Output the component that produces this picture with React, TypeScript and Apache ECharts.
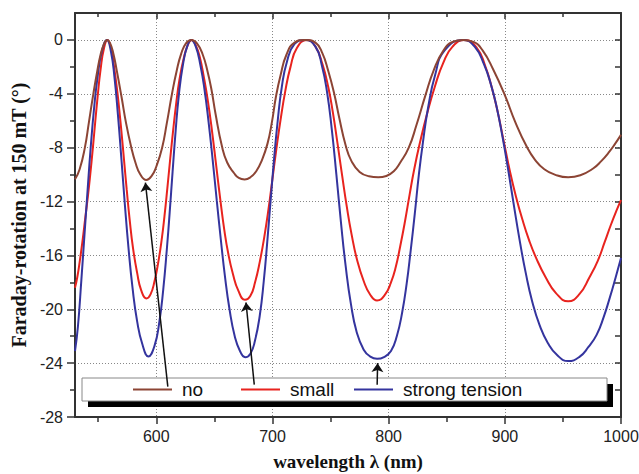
import React, { useEffect, useRef } from "react";
import * as echarts from "echarts";

// ---- data ----
const seriesNames = ["no", "small", "strong tension"];
const seriesColors = ["#8c4434", "#e8231e", "#34349e"];

const noX = [530, 534, 538.5, 542, 545.8, 549, 552, 555, 557.6, 560, 563, 566, 570, 574, 578.5, 582, 586, 591.4, 596, 600, 605, 609, 613.5, 617.5, 621.5, 625.5, 630, 635, 640, 644, 647.5, 651, 656.5, 661, 667, 671, 676, 681, 686, 691, 695.7, 699.5, 703, 707, 712, 719, 728, 737, 743, 748, 752.9, 757.5, 762.9, 768, 775, 783, 791, 798, 804.4, 810, 817.3, 824, 831.7, 839, 847, 855, 864, 873, 881, 890, 900, 909, 918.7, 926, 934, 943, 954.5, 965, 976, 983, 990, 995, 1000];
const noY = [-10.35, -9.6, -8, -6.1, -4, -2.4, -1.1, -0.3, 0, -0.2, -1.0, -2.3, -4.2, -6.2, -8, -9.1, -9.95, -10.4, -10.1, -9.4, -8, -6.2, -4, -2.3, -1.0, -0.25, 0, -0.25, -1.1, -2.3, -3.7, -5.5, -7.9, -9.1, -9.9, -10.25, -10.36, -10.2, -9.75, -8.9, -7.7, -6.1, -4.2, -2.6, -1.1, -0.2, 0, -0.2, -1.0, -2.3, -3.9, -5.8, -7.8, -9.0, -9.8, -10.12, -10.2, -10.1, -9.75, -9.1, -8, -6.3, -4.1, -2.2, -0.8, -0.15, 0, -0.15, -0.8, -2.2, -4.1, -6.1, -7.9, -8.9, -9.6, -10.0, -10.2, -10.05, -9.55, -9.0, -8.3, -7.7, -7.05];

const smallX = [530, 532, 534, 536.5, 539, 541, 543, 545.5, 547.5, 549.5, 552, 555, 558, 561, 563.5, 566.5, 568.6, 570.6, 572.6, 574.5, 577, 580, 583.5, 587, 591.5, 595, 598.5, 601.5, 604.5, 607, 609.5, 612, 614.5, 617, 620, 623.5, 627, 630.5, 634, 637.5, 641, 644.5, 648, 651.5, 655, 658.5, 662, 666, 670.5, 676.3, 681, 685, 689, 693, 696.5, 700, 703.5, 707, 711, 715.5, 721, 729.5, 737, 743, 748, 752, 756, 760, 764, 768, 773, 778.5, 784, 790, 797, 802, 806, 810, 814, 818, 822, 827, 833, 840, 847, 855, 865.5, 876, 883, 889, 894, 899, 904, 909.5, 915, 921, 927, 935, 944, 954.5, 964, 973, 980, 986, 991, 996, 1000];
const smallY = [-18.4, -17.6, -16.5, -14.9, -13.1, -11.7, -10.1, -7.9, -6.0, -4.2, -2.2, -0.6, 0, -0.6, -1.9, -3.9, -5.6, -7.4, -9.3, -11.1, -13.3, -15.5, -17.3, -18.6, -19.2, -18.9, -17.9, -16.6, -14.9, -13.1, -11.0, -8.8, -6.7, -4.8, -2.9, -1.4, -0.4, 0, -0.4, -1.3, -2.8, -4.6, -6.8, -9.3, -11.8, -14.1, -15.9, -17.4, -18.6, -19.3, -19.0, -18.0, -16.5, -14.6, -12.6, -10.3, -8.0, -5.9, -3.8, -2.0, -0.6, 0, -0.5, -1.8, -3.5, -5.4, -7.7, -10.1, -12.4, -14.4, -16.4, -17.9, -18.9, -19.35, -18.9, -18.0, -16.9, -15.3, -13.5, -11.5, -9.6, -7.6, -5.5, -3.4, -1.7, -0.5, 0, -0.6, -1.9, -3.6, -5.4, -7.5, -9.6, -11.6, -13.3, -14.9, -16.2, -17.6, -18.8, -19.4, -18.9, -17.6, -16.4, -15.0, -13.8, -12.7, -11.9];

const strongX = [530, 532.5, 535.5, 538.3, 540.8, 543.5, 546.5, 549.5, 553, 557.5, 561, 564, 567, 570, 573, 576, 579.5, 583.5, 588, 593.2, 598.5, 602.5, 606, 609, 611.5, 614, 616.5, 619.5, 623, 626.5, 630, 634, 638, 641.5, 645, 648.5, 652, 655.5, 659, 663, 667.5, 672, 676.5, 681, 685, 689, 692.5, 695.5, 698.5, 701.5, 704.5, 708, 712.5, 719, 728, 737, 742.5, 747, 751, 755, 759, 763, 767.5, 772.5, 778.5, 784, 790, 796, 802, 807, 811.5, 815.5, 819, 822.5, 826, 829.5, 834, 840, 848, 864, 874, 882, 888, 893, 898, 903, 908, 913, 918, 923.5, 930, 937, 945, 954.5, 964, 972, 979, 985, 990.5, 995.5, 1000];
const strongY = [-23.1, -21.3, -17.8, -14.3, -11.2, -8.0, -5.0, -2.7, -0.9, 0, -0.9, -2.8, -5.6, -8.9, -12.3, -15.4, -18.4, -20.9, -22.6, -23.5, -22.7, -21.0, -18.5, -15.6, -12.8, -9.8, -6.9, -4.0, -1.8, -0.5, 0, -0.5, -1.9, -3.7, -6.1, -8.9, -11.9, -14.8, -17.5, -20.0, -22.0, -23.1, -23.56, -23.3, -22.3, -20.5, -17.9, -15.0, -11.8, -8.7, -6.0, -3.5, -1.6, -0.3, 0, -0.5, -1.9, -3.9, -6.6, -10.0, -13.6, -16.8, -19.6, -21.7, -23.0, -23.5, -23.68, -23.55, -23.1, -22.0, -20.3, -18.1, -15.6, -12.9, -10.0, -7.6, -5.0, -2.6, -0.8, 0, -0.5, -1.8, -3.3, -5.0, -7.2, -9.7, -12.4, -15.0, -17.3, -19.4, -21.2, -22.5, -23.4, -23.85, -23.55, -22.8, -21.9, -20.6, -19.1, -17.6, -16.2];

const xMajor = [600, 700, 800, 900, 1000];
const xMinor = [550, 650, 750, 850, 950];
const yMajor = [-28, -24, -20, -16, -12, -8, -4, 0];
const yMinor = [-26, -22, -18, -14, -10, -6, -2];
const yRightTicks = [-26, -24, -22, -20, -18, -16, -14, -12, -10, -8, -6, -4, -2, 0];

// arrows: tail (in legend) -> head (curve minimum)
const arrowFrom = [[609.9, -25.74], [684.3, -25.6], [790.1, -25.6]];
const arrowTo = [[590.6, -10.6], [677.2, -19.5], [790.5, -24.0]];

const zip = (xs: number[], ys: number[]) => xs.map((x, i) => [x, ys[i]]);

const SANS = "'Liberation Sans', Arial, sans-serif";
const SERIF = "'Liberation Serif', 'Times New Roman', serif";
const AXIS_COLOR = "#333";

export default function App() {
  const ref = useRef<HTMLDivElement>(null);
  useEffect(() => {
    if (!ref.current) return;
    const chart = echarts.init(ref.current, undefined, { renderer: "svg" });
    const lineStyle = { color: AXIS_COLOR, width: 2 };
    const tickStyle = { color: AXIS_COLOR, width: 1.5 };
    const xBase = { type: "value", min: 530, max: 1000, gridIndex: 0 };
    const yBase = { type: "value", min: -28, max: 2, gridIndex: 0 };
    const off = { show: false };
    const dataSets = [zip(noX, noY), zip(smallX, smallY), zip(strongX, strongY)];
    const order = [1, 2, 0];
    const legendCommon = {
      top: 380,
      padding: 0,
      icon: "rect",
      itemWidth: 39,
      itemHeight: 2,
      selectedMode: false,
      textStyle: { fontFamily: SANS, fontSize: 19, color: "#111", padding: [0, 0, 0, 5] },
    };
    const option: any = {
      animation: false,
      backgroundColor: "#fff",
      grid: { left: 75, right: 18, top: 13, bottom: 57, containLabel: false, outerBoundsMode: "none" },
      legend: [
        { ...legendCommon, left: 133, data: ["no"] },
        { ...legendCommon, left: 241, data: ["small"] },
        { ...legendCommon, left: 354, data: ["strong tension"] },
      ],
      xAxis: [
        {
          ...xBase,
          position: "bottom",
          axisLine: { show: true, onZero: false, lineStyle },
          axisTick: { show: true, inside: false, length: 7, customValues: xMajor, lineStyle: tickStyle },
          axisLabel: {
            show: true,
            customValues: xMajor,
            margin: 11,
            fontSize: 16,
            fontFamily: SANS,
            color: "#222",
            formatter: (v: number) => String(v),
          },
          splitLine: { show: true, lineStyle: { type: [1, 2], color: "#888", width: 1 } },
          name: "wavelength λ (nm)",
          nameLocation: "middle",
          nameGap: 35,
          nameTextStyle: { fontFamily: SERIF, fontWeight: "bold", fontSize: 19, color: "#111" },
        },
        {
          ...xBase,
          position: "bottom",
          axisLine: { show: false, onZero: false },
          axisTick: { show: true, inside: false, length: 5, customValues: xMinor, lineStyle: tickStyle },
          axisLabel: off,
          splitLine: off,
        },
        {
          ...xBase,
          position: "top",
          axisLine: { show: true, onZero: false, lineStyle },
          axisTick: { show: true, inside: true, length: 6, customValues: xMajor, lineStyle: tickStyle },
          axisLabel: off,
          splitLine: off,
        },
        {
          ...xBase,
          position: "top",
          axisLine: { show: false, onZero: false },
          axisTick: { show: true, inside: true, length: 4, customValues: xMinor, lineStyle: tickStyle },
          axisLabel: off,
          splitLine: off,
        },
      ],
      yAxis: [
        {
          ...yBase,
          position: "left",
          axisLine: { show: true, onZero: false, lineStyle },
          axisTick: { show: true, inside: false, length: 8, customValues: yMajor, lineStyle: tickStyle },
          axisLabel: {
            show: true,
            customValues: yMajor,
            margin: 12,
            fontSize: 16,
            fontFamily: SANS,
            color: "#222",
            formatter: (v: number) => String(v),
          },
          splitLine: { show: true, lineStyle: { type: [1, 2], color: "#888", width: 1 } },
          name: "Faraday-rotation at 150 mT (°)",
          nameLocation: "middle",
          nameRotate: 90,
          nameGap: 45,
          nameTextStyle: { fontFamily: SERIF, fontWeight: "bold", fontSize: 20, color: "#111" },
        },
        {
          ...yBase,
          position: "left",
          axisLine: { show: false, onZero: false },
          axisTick: { show: true, inside: false, length: 5, customValues: yMinor, lineStyle: tickStyle },
          axisLabel: off,
          splitLine: off,
        },
        {
          ...yBase,
          position: "right",
          axisLine: { show: true, onZero: false, lineStyle },
          axisTick: { show: true, inside: true, length: 6, customValues: yRightTicks, lineStyle: tickStyle },
          axisLabel: off,
          splitLine: off,
        },
      ],
      graphic: [
        { type: "rect", z: 1, shape: { x: 88, y: 384, width: 525, height: 23 }, style: { fill: "#000" }, silent: true },
        { type: "rect", z: 1, shape: { x: 82, y: 378, width: 525, height: 23 }, style: { fill: "#fff", stroke: "#888", lineWidth: 1 }, silent: true },
      ],
      series: [
        ...order.map((i) => ({
          name: seriesNames[i],
          type: "line",
          xAxisIndex: 0,
          yAxisIndex: 0,
          data: dataSets[i],
          smooth: 0.5,
          showSymbol: false,
          symbol: "none",
          color: seriesColors[i],
          lineStyle: { color: seriesColors[i], width: 2 },
          emphasis: { disabled: true },
          z: 3,
        })),
        {
          name: "arrows",
          type: "line",
          xAxisIndex: 0,
          yAxisIndex: 0,
          data: [],
          z: 5,
          markLine: {
            silent: true,
            symbol: ["none", "arrow"],
            symbolSize: 9,
            label: { show: false },
            emphasis: { disabled: true },
            lineStyle: { color: "#111", width: 1.5, type: "solid" },
            data: arrowFrom.map((f, i) => [{ coord: f }, { coord: arrowTo[i] }]),
          },
        },
      ],
    };
    chart.setOption(option);
    return () => chart.dispose();
  }, []);
  return (
    <div
      ref={ref}
      style={{ position: "fixed", left: 0, top: 0, width: 639, height: 474, background: "#fff" }}
    />
  );
}
